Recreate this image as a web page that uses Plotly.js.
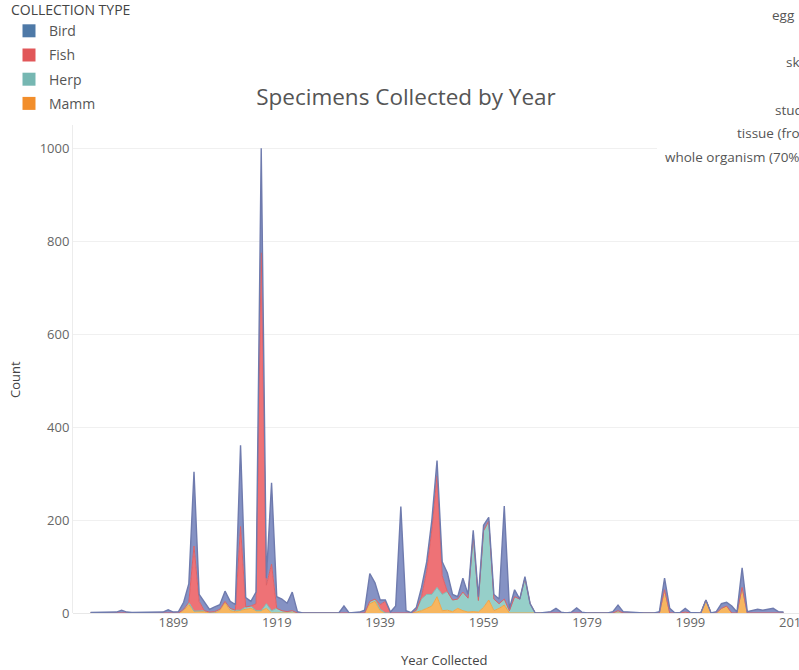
<!DOCTYPE html>
<html>
<head>
<meta charset="utf-8">
<script src="https://cdn.plot.ly/plotly-3.0.1.min.js"></script>
<style>
  html, body { margin: 0; padding: 0; background: #fff; overflow: hidden; }
  #chart { width: 799px; height: 670px; }
</style>
</head>
<body>
<div id="chart"></div>
<script>
// ---------------- DATA ----------------
const FIRST_YEAR = 1883;
const categories = ["Bird", "Fish", "Herp", "Mamm"];
const tickYears = [1899, 1919, 1939, 1959, 1979, 1999, 2019];
const prepLabels = ["egg", "skeleton", "study skin", "tissue (frozen)", "whole organism (70% ethanol)"];

// one value per year, starting at FIRST_YEAR (1883 .. 2017)
const mammCounts = [
  0,0,0,0,0,0,0,0,0,0,        // 1883-1892
  0,0,0,0,0,0,0,0,5,18,       // 1893-1902
  4,3,3,0,0,5,22,5,3,6,       // 1903-1912
  8,10,5,5,10,0,0,0,0,0,      // 1913-1922
  0,0,0,0,0,0,0,0,0,0,        // 1923-1932
  0,0,0,0,20,25,5,0,0,0,      // 1933-1942
  0,0,0,2,5,10,15,35,5,6,     // 1943-1952
  3,10,5,2,3,2,12,28,5,10,    // 1953-1962
  17,0,0,0,0,0,0,0,0,0,       // 1963-1972
  0,0,0,0,0,0,0,0,0,0,        // 1973-1982
  0,0,0,0,0,0,0,0,0,0,        // 1983-1992
  0,50,0,0,0,0,0,0,0,28,      // 1993-2002
  0,0,10,15,0,0,55,0,0,0,     // 2003-2012
  0,0,0,0,0                   // 2013-2017
];
const herpCounts = [
  0,0,0,0,0,0,0,0,0,0,
  0,0,0,0,0,0,0,0,3,5,
  0,2,2,2,3,3,3,5,3,0,
  5,5,0,0,10,5,10,5,3,5,
  0,0,0,0,0,0,0,0,0,0,
  0,0,0,0,5,5,3,0,0,0,
  0,0,0,4,25,30,25,20,35,40,
  25,20,40,30,165,25,165,170,25,10,
  13,5,35,30,75,20,0,0,0,0,
  0,0,0,0,0,0,0,0,0,0,
  0,0,5,0,0,0,0,0,0,0,
  0,0,0,0,0,2,0,0,0,0,
  0,0,0,0,0,0,0,0,0,0,
  0,0,0,0,0
];
const fishCounts = [
  0,0,0,0,0,0,0,0,0,0,
  0,0,0,0,0,0,0,0,0,0,
  140,20,0,0,0,0,0,0,0,180,
  0,0,15,770,40,100,0,0,0,0,
  0,0,0,0,0,0,0,0,0,0,
  0,0,0,0,0,0,10,25,0,0,
  0,0,0,0,5,50,140,240,40,0,
  0,0,0,0,0,0,0,0,0,0,
  0,0,0,0,0,0,0,0,0,0,
  0,0,0,0,0,0,0,0,0,0,
  0,0,0,0,0,0,0,0,0,0,
  0,0,0,0,0,0,0,0,0,0,
  0,0,0,0,0,0,0,0,0,0,
  0,0,0,0,0
];
const birdCounts = [
  1,1,1,1,2,2,6,2,1,1,
  1,1,1,1,2,7,2,3,15,40,
  160,15,18,6,10,10,22,15,12,175,
  20,10,25,225,15,175,25,25,18,40,
  3,0,0,0,0,0,0,0,0,15,
  0,1,2,6,60,35,10,3,2,15,
  229,5,1,6,20,20,20,33,30,40,
  12,5,30,8,10,8,12,8,10,10,
  200,5,15,0,3,0,0,0,2,3,
  10,2,0,2,11,2,0,0,0,0,
  0,3,12,3,2,1,0,0,0,0,
  3,25,10,0,1,8,1,0,0,0,
  0,3,10,8,15,2,42,3,5,8,
  6,8,10,3,2
];

const years = birdCounts.map((_, i) => FIRST_YEAR + i);

// ---------------- STYLE ----------------
const W = 799, H = 670;
const M = { l: 73, r: 0, t: 125, b: 57, autoexpand: false };
const PW = W - M.l - M.r, PH = H - M.t - M.b;
const px2x = p => (p - M.l) / PW;
const py2y = p => (H - M.b - p) / PH;

const styles = {
  Bird: { fill: "#8592c4", line: "#6f7bae", lw: 1.4, swatch: "#4e79a7" },
  Fish: { fill: "#ee7276", line: "#de6166", lw: 1, swatch: "#e15759" },
  Herp: { fill: "#96cfc9", line: "#7dbcb5", lw: 1, swatch: "#76b7b2" },
  Mamm: { fill: "#f7b65f", line: "#f2a444", lw: 1, swatch: "#f28e2b" }
};
const seriesData = { Bird: birdCounts, Fish: fishCounts, Herp: herpCounts, Mamm: mammCounts };

// stacking order bottom -> top
const stackOrder = ["Mamm", "Herp", "Fish", "Bird"];
const traces = stackOrder.map(name => ({
  type: "scatter",
  mode: "lines",
  x: years,
  y: seriesData[name],
  name: name,
  stackgroup: "one",
  fillcolor: styles[name].fill,
  line: { color: styles[name].line, width: styles[name].lw, shape: "linear" },
  showlegend: false,
  hoverinfo: "x+y+name"
}));

// legend entries (square swatches)
categories.forEach(name => {
  traces.push({
    type: "scatter",
    mode: "markers",
    x: [null], y: [null],
    name: name,
    legendgroup: name,
    marker: { symbol: "square", size: 13, color: styles[name].swatch },
    showlegend: true,
    hoverinfo: "skip"
  });
});

const font = "'Open Sans', 'Noto Sans', sans-serif";

const annotations = [];
const prepPos = [
  { x: 770, y: 15 },
  { x: 784, y: 62 },
  { x: 773, y: 110 },
  { x: 735, y: 133 },
  { x: 663, y: 157 }
];
prepLabels.forEach((t, i) => {
  annotations.push({
    text: t, xref: "paper", yref: "paper",
    x: px2x(prepPos[i].x), y: py2y(prepPos[i].y),
    xanchor: "left", yanchor: "middle", showarrow: false,
    font: { family: font, size: 13.5, color: "#555" }
  });
});
// axis titles
annotations.push({
  text: "Year Collected", xref: "paper", yref: "paper",
  x: px2x(444), y: py2y(660), xanchor: "center", yanchor: "middle",
  showarrow: false, font: { family: font, size: 13, color: "#444" }
});
annotations.push({
  text: "Count", xref: "paper", yref: "paper", textangle: -90,
  x: px2x(15), y: py2y(380), xanchor: "center", yanchor: "middle",
  showarrow: false, font: { family: font, size: 13, color: "#444" }
});

const layout = {
  width: W, height: H,
  margin: M,
  paper_bgcolor: "#fff",
  plot_bgcolor: "#fff",
  font: { family: font, color: "#666", size: 12 },
  title: {
    text: "Specimens Collected by Year",
    font: { family: font, size: 22.5, color: "#555" },
    x: 406 / W, xanchor: "center",
    y: 1 - 97 / H, yanchor: "middle", yref: "container", xref: "container"
  },
  xaxis: {
    range: [1879.6, 2020.0],
    tickmode: "array",
    tickvals: tickYears,
    ticktext: tickYears.map(String),
    ticklabeloverflow: "allow",
    showgrid: false,
    zeroline: false,
    showline: false,
    ticks: "",
    automargin: false,
    tickfont: { family: font, size: 13, color: "#666" }
  },
  yaxis: {
    range: [0, 1050],
    tickvals: [0, 200, 400, 600, 800, 1000],
    showgrid: true,
    gridcolor: "#f0f0f0",
    gridwidth: 1,
    zeroline: true,
    zerolinecolor: "#e8e8e8",
    showline: true,
    linecolor: "#ececec",
    ticks: "",
    automargin: false,
    tickfont: { family: font, size: 13, color: "#666" }
  },
  showlegend: true,
  legend: {
    xref: "container", yref: "container",
    x: 9 / W, y: 1,
    xanchor: "left", yanchor: "top",
    traceorder: "grouped",
    tracegroupgap: 3,
    bgcolor: "rgba(255,255,255,0)",
    borderwidth: 0,
    font: { family: font, size: 14, color: "#555" },
    title: { text: "COLLECTION TYPE", font: { family: font, size: 14, color: "#444" } }
  },
  shapes: [{
    type: "rect", xref: "paper", yref: "paper", layer: "above",
    x0: px2x(657), x1: px2x(810), y0: py2y(172), y1: py2y(-5),
    fillcolor: "#fff", line: { width: 0 }
  }],
  annotations: annotations
};

Plotly.newPlot("chart", traces, layout, { displayModeBar: false, staticPlot: true }).then(gd => {
  // nudge legend up a few pixels to match the reference's top-left block
  const lg = gd.querySelector(".legend");
  if (lg) {
    const t = lg.getAttribute("transform") || "";
    const m = t.match(/translate\(([-\d.]+)[ ,]+([-\d.]+)\)/);
    if (m) lg.setAttribute("transform", `translate(${m[1]},${parseFloat(m[2]) - 3})`);
  }
});
</script>
</body>
</html>
